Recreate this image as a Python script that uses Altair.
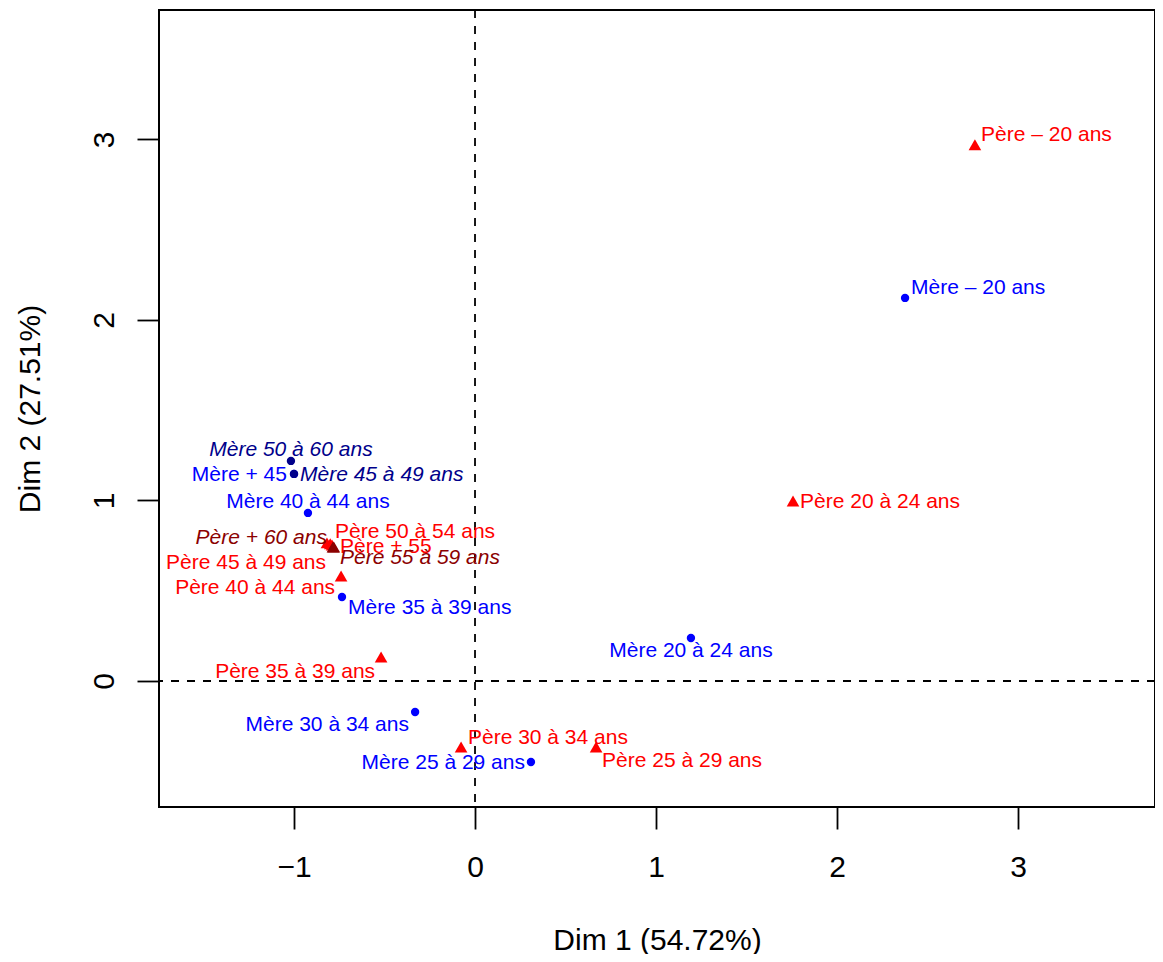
import altair as alt
import pandas as pd

# Category labels and their coordinates on the first two dimensions
names = [
    "Mère – 20 ans", "Père – 20 ans", "Père 20 à 24 ans", "Mère 20 à 24 ans",
    "Père 25 à 29 ans", "Mère 25 à 29 ans", "Père 30 à 34 ans", "Mère 30 à 34 ans",
    "Père 35 à 39 ans", "Mère 35 à 39 ans", "Père 40 à 44 ans", "Mère 40 à 44 ans",
    "Père 45 à 49 ans", "Père 50 à 54 ans", "Père + 55", "Mère + 45",
    "Mère 45 à 49 ans", "Mère 50 à 60 ans", "Père + 60 ans", "Père 55 à 59 ans",
]
dim1 = [2.376, 2.762, 1.757, 1.193, 0.669, 0.309, -0.077, -0.331, -0.519, -0.735,
        -0.740, -0.923, -0.818, -0.800, -0.790, -1.000, -1.000, -1.017, -0.785, -0.780]
dim2 = [2.122, 2.970, 0.997, 0.238, -0.366, -0.449, -0.366, -0.172, 0.133, 0.465,
        0.582, 0.931, 0.765, 0.760, 0.753, 1.147, 1.147, 1.219, 0.742, 0.742]
parent = ["Mère", "Père", "Père", "Mère", "Père", "Mère", "Père", "Mère", "Père", "Mère",
          "Père", "Mère", "Père", "Père", "Père", "Mère", "Mère", "Mère", "Père", "Père"]
status = ["active"] * 16 + ["supp"] * 4

# Where each label was placed (anchor in data units) and which side it hangs from
label_dim1 = [2.409, 2.796, 1.796, 1.193, 0.702, 0.276, -0.039, -0.365, -0.552, -0.702,
              -0.773, -0.923, -0.823, -0.773, -0.746, -1.039, -0.967, -1.017, -0.818, -0.746]
label_dim2 = [2.177, 3.025, 0.992, 0.166, -0.443, -0.454, -0.316, -0.244, 0.050, 0.404,
              0.515, 0.992, 0.654, 0.825, 0.742, 1.141, 1.141, 1.280, 0.792, 0.681]
label_side = ["left", "left", "left", "center", "left", "right", "left", "right", "right", "left",
              "right", "center", "right", "left", "left", "right", "left", "center", "right", "left"]

df = pd.DataFrame({
    "name": names, "dim1": dim1, "dim2": dim2, "parent": parent, "status": status,
    "lx": label_dim1, "ly": label_dim2, "side": label_side,
})
df["cat"] = df["parent"] + "_" + df["status"]

FONT = "Liberation Sans"
xs = alt.Scale(domain=[-1.746, 3.757], nice=False, zero=False)
ys = alt.Scale(domain=[-0.698, 3.717], nice=False, zero=False)
cat_dom = ["Mère_active", "Père_active", "Mère_supp", "Père_supp"]
cat_col = ["#0000FF", "#FF0000", "#00008B", "#8B0000"]
color = alt.Color("cat:N", scale=alt.Scale(domain=cat_dom, range=cat_col), legend=None)

x_axis = alt.Axis(values=[-1, 0, 1, 2, 3], format="d", domain=False, grid=False,
                  tickSize=22, tickWidth=1.8, tickColor="black",
                  labelFont=FONT, labelFontSize=30, labelColor="black", labelPadding=23,
                  title="Dim 1 (54.72%)", titleFont=FONT, titleFontSize=30,
                  titleFontWeight="normal", titleColor="black", titlePadding=43)
y_axis = alt.Axis(values=[0, 1, 2, 3], format="d", domain=False, grid=False,
                  tickSize=22, tickWidth=1.8, tickColor="black",
                  labelFont=FONT, labelFontSize=30, labelColor="black", labelPadding=18,
                  labelAngle=-90, labelAlign="center", labelBaseline="bottom",
                  title="Dim 2 (27.51%)", titleFont=FONT, titleFontSize=30,
                  titleFontWeight="normal", titleColor="black", titlePadding=44)

base = alt.Chart(df)

vline = alt.Chart(pd.DataFrame({"v": [0]})).mark_rule(
    color="black", strokeWidth=1.8, strokeDash=[8, 8]
).encode(x=alt.X("v:Q", scale=xs, axis=x_axis))
hline = alt.Chart(pd.DataFrame({"v": [0]})).mark_rule(
    color="black", strokeWidth=1.8, strokeDash=[8, 8]
).encode(y=alt.Y("v:Q", scale=ys, axis=y_axis))

points = base.mark_point(filled=True, opacity=1, strokeWidth=0).encode(
    x=alt.X("dim1:Q", scale=xs, axis=x_axis),
    y=alt.Y("dim2:Q", scale=ys, axis=y_axis),
    color=color,
    shape=alt.Shape("parent:N", scale=alt.Scale(domain=["Mère", "Père"],
                                                 range=["circle", "triangle-up"]), legend=None),
    size=alt.Size("parent:N", scale=alt.Scale(domain=["Mère", "Père"], range=[70, 160]),
                  legend=None),
)

text_layers = []
for side in ["left", "center", "right"]:
    for st, style in [("active", "normal"), ("supp", "italic")]:
        text_layers.append(
            base.transform_filter(
                (alt.datum.side == side) & (alt.datum.status == st)
            ).mark_text(align=side, baseline="middle", font=FONT, fontSize=21,
                        fontStyle=style).encode(
                x=alt.X("lx:Q", scale=xs, axis=x_axis),
                y=alt.Y("ly:Q", scale=ys, axis=y_axis),
                text="name:N",
                color=color,
            )
        )

chart = alt.layer(vline, hline, points, *text_layers).properties(
    width=996, height=797,
    background="white",
    autosize=alt.AutoSizeParams(type="none"),
    padding={"left": 151, "top": 2, "right": 0, "bottom": 147},
).configure_view(stroke="black", strokeWidth=2)

chart.save("out.html", embed_options={"renderer": "svg", "actions": False})
